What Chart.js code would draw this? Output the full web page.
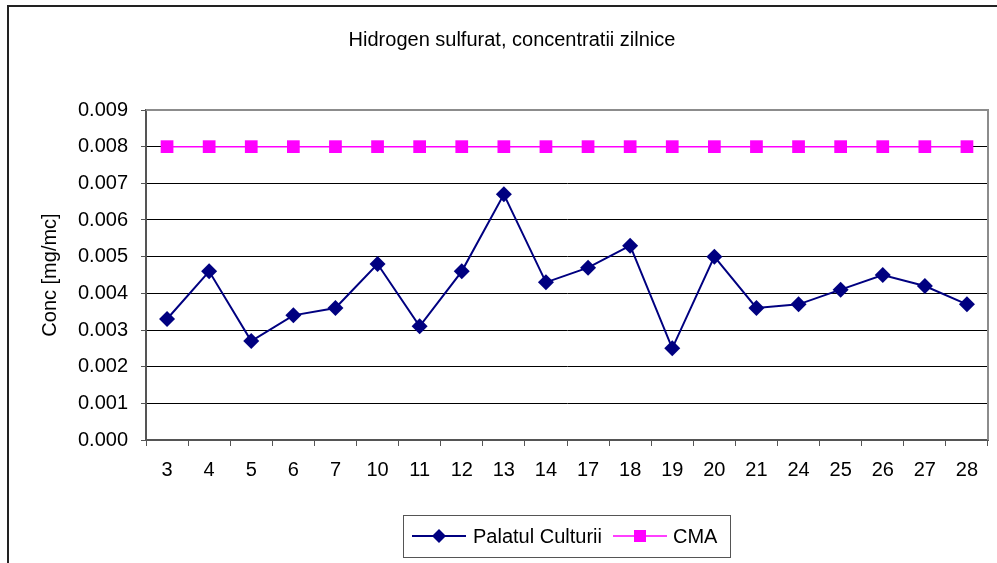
<!DOCTYPE html>
<html>
<head>
<meta charset="utf-8">
<script src="https://cdn.jsdelivr.net/npm/chart.js@4/dist/chart.umd.min.js"></script>
<style>
  html, body { margin: 0; padding: 0; background: #fff; }
  #chart { display: block; }
</style>
</head>
<body>
<canvas id="chart" width="997" height="563"></canvas>
<script>
const days = ['3', '4', '5', '6', '7', '10', '11', '12', '13', '14', '17', '18', '19', '20', '21', '24', '25', '26', '27', '28'];
const palatulCulturii = [0.0033, 0.0046, 0.0027, 0.0034, 0.0036, 0.0048, 0.0031, 0.0046, 0.0067, 0.0043,
  0.0047, 0.0053, 0.0025, 0.0050, 0.0036, 0.0037, 0.0041, 0.0045, 0.0042, 0.0037];
const cma = [0.008, 0.008, 0.008, 0.008, 0.008, 0.008, 0.008, 0.008, 0.008, 0.008,
  0.008, 0.008, 0.008, 0.008, 0.008, 0.008, 0.008, 0.008, 0.008, 0.008];
const chartTitle = 'Hidrogen sulfurat, concentratii zilnice';
const yAxisTitle = 'Conc [mg/mc]';

const FONT = '"Liberation Sans", Arial, sans-serif';

// frame, plot border, title and legend drawn by hand to match the Excel look
const decorations = {
  id: 'decorations',
  beforeDraw(chart) {
    const ctx = chart.ctx;
    ctx.save();
    ctx.fillStyle = '#fff';
    ctx.fillRect(0, 0, chart.width, chart.height);
    ctx.restore();
  },
  afterDraw(chart) {
    const ctx = chart.ctx;
    const area = chart.chartArea;
    ctx.save();

    // outer frame (runs off the right and bottom edges)
    ctx.strokeStyle = '#222';
    ctx.lineWidth = 2;
    ctx.beginPath();
    ctx.moveTo(8, chart.height + 5);
    ctx.lineTo(8, 6);
    ctx.lineTo(chart.width + 5, 6);
    ctx.stroke();

    // plot area top/right border
    ctx.strokeStyle = '#8c8c8c';
    ctx.lineWidth = 2;
    ctx.beginPath();
    ctx.moveTo(area.left, area.top);
    ctx.lineTo(area.right, area.top);
    ctx.lineTo(area.right, area.bottom);
    ctx.stroke();

    // title
    ctx.fillStyle = '#000';
    ctx.font = '20px ' + FONT;
    ctx.textAlign = 'center';
    ctx.textBaseline = 'middle';
    ctx.fillText(chartTitle, 512, 40);

    // legend
    ctx.strokeStyle = '#555';
    ctx.lineWidth = 1;
    ctx.strokeRect(403.5, 515.5, 327, 42);
    ctx.font = '20px ' + FONT;
    ctx.textAlign = 'left';
    const entries = [
      { x: 412, ds: chart.data.datasets[0], textX: 473 },
      { x: 613, ds: chart.data.datasets[1], textX: 673 }
    ];
    entries.forEach(e => {
      const y = 536;
      ctx.strokeStyle = e.ds.borderColor;
      ctx.lineWidth = e.ds.borderWidth;
      ctx.beginPath();
      ctx.moveTo(e.x, y);
      ctx.lineTo(e.x + 54, y);
      ctx.stroke();
      ctx.fillStyle = e.ds.pointBackgroundColor;
      const cx = e.x + 27;
      if (e.ds.pointStyle === 'rectRot') {
        const r = 7;
        ctx.beginPath();
        ctx.moveTo(cx, y - r);
        ctx.lineTo(cx + r, y);
        ctx.lineTo(cx, y + r);
        ctx.lineTo(cx - r, y);
        ctx.closePath();
        ctx.fill();
      } else {
        ctx.fillRect(cx - 6, y - 6, 12, 12);
      }
      ctx.fillStyle = '#000';
      ctx.fillText(e.ds.label, e.textX, y + 1);
    });

    ctx.restore();
  }
};

new Chart(document.getElementById('chart'), {
  type: 'line',
  data: {
    labels: days,
    datasets: [
      {
        label: 'Palatul Culturii',
        data: palatulCulturii,
        borderColor: '#000080',
        backgroundColor: '#000080',
        pointBackgroundColor: '#000080',
        pointBorderColor: '#000080',
        pointStyle: 'rectRot',
        pointRadius: 8,
        pointBorderWidth: 0,
        borderWidth: 2,
        tension: 0
      },
      {
        label: 'CMA',
        data: cma,
        borderColor: '#ff00ff',
        backgroundColor: '#ff00ff',
        pointBackgroundColor: '#ff00ff',
        pointBorderColor: '#ff00ff',
        pointStyle: 'rect',
        pointRadius: 9,
        pointBorderWidth: 0,
        borderWidth: 1.5,
        tension: 0
      }
    ]
  },
  options: {
    responsive: false,
    animation: false,
    layout: { padding: { left: 0, top: 110, right: 3, bottom: 0 } },
    plugins: {
      legend: { display: false },
      title: { display: false },
      tooltip: { enabled: false }
    },
    scales: {
      x: {
        offset: true,
        grid: {
          display: true,
          offset: true,
          drawOnChartArea: false,
          drawTicks: true,
          tickLength: 6,
          tickColor: '#555',
          tickWidth: 1
        },
        border: { color: '#555', width: 2 },
        ticks: {
          color: '#000',
          font: { family: FONT, size: 20 },
          padding: 12,
          maxRotation: 0,
          autoSkip: false
        },
        afterFit(scale) { scale.height = 123; }
      },
      y: {
        min: 0,
        max: 0.009,
        grid: {
          color: '#000',
          lineWidth: 1,
          tickLength: 5,
          tickColor: '#555'
        },
        border: { color: '#555', width: 2 },
        ticks: {
          stepSize: 0.001,
          color: '#000',
          font: { family: FONT, size: 20 },
          padding: 13,
          callback: v => Number(v).toFixed(3)
        },
        title: {
          display: true,
          text: yAxisTitle,
          color: '#000',
          font: { family: FONT, size: 20 },
          padding: { top: 38, bottom: 0 }
        },
        afterFit(scale) { scale.width = 146; }
      }
    }
  },
  plugins: [decorations]
});
</script>
</body>
</html>
